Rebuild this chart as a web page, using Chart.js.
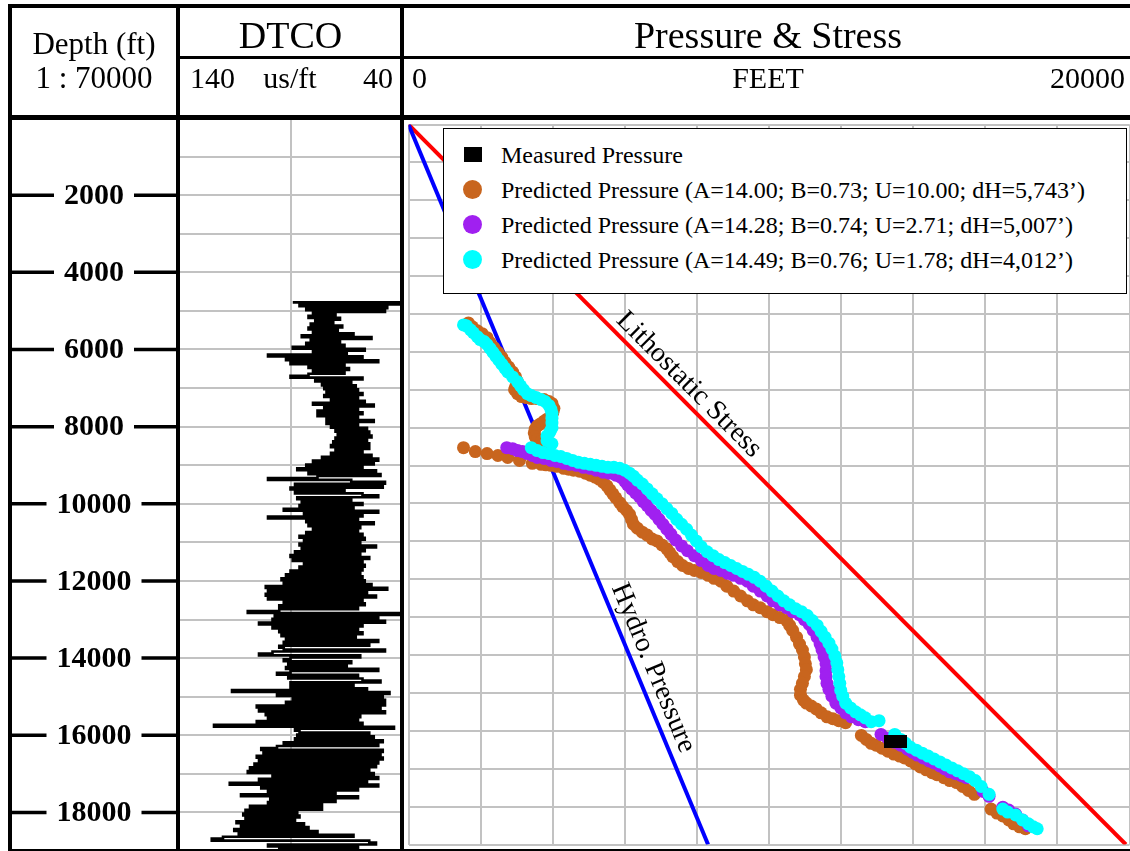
<!DOCTYPE html>
<html>
<head>
<meta charset="utf-8">
<title>Pressure &amp; Stress log</title>
<script src="https://cdn.jsdelivr.net/npm/chart.js@4.4.0/dist/chart.umd.min.js"></script>
<style>
  html, body { margin: 0; padding: 0; background: #fff; overflow: hidden; }
  #log { position: relative; width: 1140px; height: 851px; font-family: 'Liberation Serif', 'Times New Roman', serif; color: #000; }
  .rule { position: absolute; background: #000; z-index: 5; }
  .txt { position: absolute; white-space: nowrap; line-height: 1; z-index: 6; }
  .center { text-align: center; }
  .right { text-align: right; }
  canvas { position: absolute; top: 118px; }
  #legend { position: absolute; left: 443px; top: 128px; width: 682px; height: 156px; border: 1.5px solid #000;
            background: #fff; z-index: 7; padding-top: 8px; box-sizing: content-box; }
  .row { display: flex; align-items: center; height: 35px; font-size: 24px; line-height: 24px; }
  .mark { width: 57px; display: flex; justify-content: center; align-items: center; }
</style>
</head>
<body>
<div id="log">
  <!-- header text -->
  <div class="txt center" style="left:10px; width:168px; top:28px; font-size:31px;">Depth (ft)</div>
  <div class="txt center" style="left:10px; width:168px; top:62px; font-size:31px;">1 : 70000</div>
  <div class="txt center" style="left:178px; width:225px; top:16px; font-size:38px;">DTCO</div>
  <div class="txt" style="left:190px; top:63px; font-size:30px;">140</div>
  <div class="txt center" style="left:240px; width:100px; top:63px; font-size:30px;">us/ft</div>
  <div class="txt right" style="left:300px; width:93px; top:63px; font-size:30px;">40</div>
  <div class="txt center" style="left:403px; width:730px; top:16px; font-size:38px;">Pressure &amp; Stress</div>
  <div class="txt" style="left:412px; top:63px; font-size:30px;">0</div>
  <div class="txt center" style="left:403px; width:730px; top:63px; font-size:30px;">FEET</div>
  <div class="txt right" style="left:900px; width:225px; top:63px; font-size:30px;">20000</div>

  <!-- track frame -->
  <div class="rule" style="left:8px; top:4px; width:1132px; height:4px;"></div>
  <div class="rule" style="left:8px; top:4px; width:4px; height:847px;"></div>
  <div class="rule" style="left:176px; top:4px; width:4px; height:847px;"></div>
  <div class="rule" style="left:400px; top:4px; width:4px; height:847px;"></div>
  <div class="rule" style="left:178px; top:56px; width:962px; height:3px;"></div>
  <div class="rule" style="left:8px; top:115px; width:1132px; height:5px;"></div>
  <div class="rule" style="left:8px; top:849px; width:1132px; height:4px;"></div>

  <canvas id="depthTrack" width="168" height="733" style="left:10px;"></canvas>
  <canvas id="dtcoTrack" width="225" height="733" style="left:178px;"></canvas>
  <canvas id="pressureTrack" width="734" height="733" style="left:402px;"></canvas>

  <div id="legend"></div>
</div>

<script>
// ---- shared depth axis ----
const DEPTH_MIN = 0;
const DEPTH_MAX = 19000;
const depthTickLabels = [2000, 4000, 6000, 8000, 10000, 12000, 14000, 16000, 18000];

// ---- DTCO log (us/ft), sampled every 50 ft ----
const DTCO_TOP = 4780;
const DTCO_STEP = 50;
const dtcoValues = [
  89, 41, 86, 47, 83, 48, 80, 70, 82, 68,
  79, 71, 81, 67, 82, 69, 80, 62, 85, 54,
  81, 68, 83, 66, 89, 57, 80, 65, 100, 58,
  92, 51, 90, 66, 82, 64, 80, 66, 82, 90,
  58, 79, 63, 76, 61, 75, 60, 74, 58, 75,
  60, 72, 57, 80, 53, 75, 60, 78, 58, 78,
  60, 74, 53, 74, 60, 72,
  56, 70, 55, 69, 54, 70, 56, 71, 55, 72,
  55, 70, 58, 72, 54, 76, 51, 80, 53, 83,
  58, 87, 52, 82, 50, 78, 100, 63, 48, 88,
  49, 90, 66, 88, 58, 51, 87, 63, 85, 58,
  86, 62, 93, 51, 84, 58, 100, 60, 83, 53,
  82, 59, 80, 60, 83, 58, 86, 57, 84, 59,
  86, 52, 85, 57, 88, 59, 90, 55, 89, 58,
  84, 57, 86,
  58, 90, 59, 92, 58, 94, 57, 93, 54, 101,
  47, 100, 56, 101, 52, 100, 58, 93, 57, 95,
  60, 95, 109, 41, 97, 51, 98, 48, 104, 58,
  98, 60, 95, 58, 94, 61, 92, 51, 93, 55,
  95, 93, 48, 98, 104, 59, 90, 93, 63, 91,
  65, 92, 51, 90, 96, 60, 91, 58, 50, 90,
  62, 90, 56, 116, 46, 96, 49, 89, 48, 92,
  48, 105, 50,
  104, 48, 101, 59, 100, 60, 105, 58, 124, 44,
  88, 86, 55, 87, 53, 88, 49, 93, 51, 96,
  103, 49, 102, 50, 105, 49, 104, 51, 106, 52,
  108, 55, 109, 53, 98, 51, 104, 56, 117, 51,
  103, 60, 100, 70, 112, 60, 99, 70, 100, 76,
  108, 76, 110, 87, 111, 86, 110, 88, 114, 84,
  112, 82, 115, 78, 113, 62, 120, 125, 55, 52,
  100, 60, 95
];

// ---- pressure track (depth in ft, pressure in psi) ----
const measuredDepth = [16291];
const measuredPressure = [13516];

// Predicted Pressure (A=14.00; B=0.73; U=10.00)
const predADepth = [
  5236, 5340, 5443, 5521, 5625, 5754, 5884, 6013, 6143, 6273, 6402, 6532, 6661, 6791, 6921, 6998, 7102, 7180, 7206, 7232,
  7232, 7258, 7309, 7361, 7491, 7594, 7698, 7776, 7828, 7906, 7957, 8035, 8139, 8243, 8320, 8372, 8424, 8476,
  8528, 8631, 8683, 8735, 8787, 8865, 8942, 8968, 8981, 8994, 9020, 9072, 9098, 9124, 9150, 9202, 9254, 9305, 9357, 9435,
  9538, 9642, 9746, 9850, 9979, 10083, 10186, 10290, 10420, 10549, 10653, 10757, 10834, 10938, 10990, 11094, 11197, 11301,
  11405, 11534, 11638, 11716, 11768, 11820, 11897, 11975, 12053, 12182, 12312, 12442, 12571, 12675, 12753, 12857, 12934,
  13012, 13090, 13219, 13349, 13530, 13712, 13867, 14049, 14230, 14386, 14567, 14748, 14904, 15060, 15189, 15267, 15345,
  15422, 15526, 15630, 15682, 15733, 15785, 16122, 16226, 16330, 16381, 16459, 16537, 16615, 16667, 16718, 16796, 16874,
  16952, 17030, 17107, 17159, 17237, 17314, 17366, 17470, 17574, 17677, 18066, 18170, 18248, 18351, 18455, 18533, 18585
];
const predAPressure = [
  1662, 1771, 1908, 2044, 2180, 2262, 2371, 2480, 2589, 2671, 2780, 2889, 2970, 3025, 2970, 2943, 3025, 3134, 3270, 3406,
  3570, 3761, 3897, 3979, 4033, 4006, 3951, 3842, 3761, 3652, 3570, 3515, 3488, 3515, 3570, 3679, 3788, 3897,
  1526, 1853, 2180, 2480, 2752, 3079, 3434, 3679, 3815, 3951, 4115, 4306, 4442, 4578, 4742, 4905, 5041, 5178, 5287, 5396,
  5505, 5586, 5668, 5750, 5859, 5941, 6050, 6131, 6186, 6240, 6349, 6486, 6622, 6758, 6894, 7031, 7167, 7249,
  7330, 7467, 7603, 7766, 7930, 8121, 8311, 8475, 8666, 8829, 9020, 9211, 9401, 9565, 9756, 9946, 10110,
  10301, 10491, 10573, 10655, 10764, 10846, 10927, 10982, 11009, 11036, 10982, 10927, 10873, 10873, 10955, 11036, 11173,
  11309, 11445, 11609, 11772, 11936, 12126, 12562, 12699, 12835, 12971, 13135, 13298, 13462, 13625, 13761, 13925, 14061,
  14197, 14361, 14524, 14661, 14851, 15015, 15206, 15369, 15533, 15696, 16159, 16323, 16486, 16650, 16786, 16950, 17113
];

// Predicted Pressure (A=14.28; B=0.74; U=2.71)
const predBDepth = [
  8528, 8554, 8605, 8631, 8683, 8735, 8787, 8813, 8865, 8891, 8942, 8968, 8994, 9046, 9072, 9124, 9176, 9202, 9254, 9305,
  9409, 9513, 9616, 9720, 9824, 9953, 10057, 10186, 10290, 10420, 10549, 10679, 10808, 10964, 11120, 11249, 11379, 11508,
  11638, 11716, 11768, 11845, 11897, 11975, 12053, 12182, 12312, 12442, 12571, 12675, 12753, 12857, 12934, 13064, 13193,
  13349, 13530, 13712, 13867, 14049, 14230, 14412, 14567, 14748, 14904, 15085, 15267, 15396, 15526, 15630, 15707, 15759,
  16096, 16200, 16304, 16381, 16485, 16563, 16641, 16718, 16796, 16848, 16926, 17004, 17081, 17133, 17185, 17237, 17599,
  17729, 18014, 18092, 18196, 18351, 18507
];
const predBPressure = [
  2725, 2889, 3025, 3161, 3297, 3434, 3570, 3761, 3951, 4115, 4306, 4469, 4660, 4851, 5041, 5205, 5396, 5559, 5750, 5886,
  5995, 6077, 6186, 6295, 6404, 6513, 6622, 6731, 6840, 6949, 7058, 7167, 7276, 7412, 7576, 7739, 7930, 8121,
  8311, 8475, 8666, 8856, 9020, 9211, 9401, 9565, 9756, 9946, 10110, 10301, 10491, 10655, 10846, 10982, 11118,
  11227, 11336, 11418, 11472, 11527, 11581, 11581, 11581, 11609, 11663, 11745, 11854, 11990, 12126, 12290, 12481, 12671,
  13107, 13298, 13489, 13652, 13843, 13979, 14116, 14279, 14443, 14579, 14742, 14879, 15015, 15178, 15342, 15478, 15941,
  16105, 16486, 16650, 16841, 17031, 17195
];

// Predicted Pressure (A=14.49; B=0.76; U=1.78)
const predCDepth = [
  5288, 5314, 5417, 5495, 5599, 5676, 5728, 5806, 5910, 6013, 6117, 6221, 6324, 6428, 6532, 6661, 6791, 6895, 6998, 7102,
  7154, 7206, 7258, 7309, 7413, 7517, 7620, 7750, 7880, 8009, 8113, 8217, 8346, 8424,
  8528, 8605, 8657, 8683, 8735, 8761, 8813, 8865, 8916, 8942, 8968, 8994, 9020, 9046, 9046, 9072, 9124, 9202, 9279, 9383,
  9487, 9616, 9746, 9876, 10005, 10135, 10264, 10420, 10549, 10679, 10834, 10990, 11146, 11275, 11379, 11482, 11560, 11638,
  11716, 11794, 11871, 11949, 12053, 12182, 12312, 12442, 12571, 12675, 12779, 12857, 12960, 13090, 13219, 13375, 13530,
  13686, 13841, 14023, 14204, 14386, 14567, 14748, 14930, 15085, 15267, 15396, 15500, 15578, 15656, 15759, 15733, 16096,
  16226, 16330, 16433, 16511, 16589, 16667, 16744, 16822, 16900, 16978, 17055, 17133, 17211, 17314, 17470, 17677, 18066,
  18144, 18222, 18351, 18455, 18533, 18585
];
const predCPressure = [
  1526, 1608, 1717, 1799, 1908, 1989, 2098, 2180, 2262, 2344, 2425, 2507, 2589, 2671, 2752, 2889, 3025, 3107, 3188, 3297,
  3406, 3543, 3679, 3788, 3897, 3951, 3979, 3979, 3979, 3979, 3924, 3842, 3842, 3979,
  3406, 3570, 3733, 3897, 4060, 4224, 4387, 4551, 4714, 4878, 5041, 5205, 5368, 5532, 5695, 5859, 5995, 6131, 6240, 6349,
  6486, 6622, 6758, 6894, 7031, 7167, 7303, 7439, 7576, 7712, 7848, 7984, 8121, 8284, 8448, 8611, 8775, 8938,
  9102, 9265, 9429, 9592, 9756, 9919, 10083, 10246, 10410, 10573, 10737, 10900, 11064, 11200, 11336, 11445, 11554,
  11663, 11745, 11827, 11881, 11908, 11936, 11963, 11990, 12045, 12126, 12263, 12399, 12535, 12671, 12835, 13053, 13489,
  13652, 13789, 13925, 14088, 14252, 14415, 14579, 14742, 14906, 15069, 15233, 15396, 15560, 15723, 15887, 16105, 16486,
  16623, 16841, 17031, 17195, 17331, 17440
];

const hydroDepth = [0, 19000];
const hydroPressure = [0, 8310];
const lithoDepth = [0, 19000];
const lithoStress = [0, 19900];

const GRID_COLOR = '#c2c2c2';
const SERIF = "'Liberation Serif', 'Times New Roman', serif";
const DOT_RADIUS = 6.5;

const toPoints = (xs, ys) => xs.map((x, i) => ({ x: x, y: ys[i] }));

function depthAxis(withGrid) {
  return {
    type: 'linear', min: DEPTH_MIN, max: DEPTH_MAX, reverse: true,
    display: withGrid,
    ticks: { display: false, stepSize: 1000 },
    grid: { color: GRID_COLOR, lineWidth: 2, drawTicks: false },
    border: { display: false }
  };
}

const baseOptions = {
  responsive: false,
  animation: false,
  events: [],
  layout: { padding: 0 },
  plugins: { legend: { display: false }, tooltip: { enabled: false } }
};

// --- depth track: tick marks either side of bold labels ---
const depthLabelsPlugin = {
  id: 'depthLabels',
  afterDraw(chart) {
    const { ctx, width } = chart;
    const scale = chart.scales.y;
    ctx.save();
    ctx.font = 'bold 30px ' + SERIF;
    ctx.textAlign = 'center';
    ctx.textBaseline = 'middle';
    ctx.fillStyle = '#000';
    ctx.strokeStyle = '#000';
    ctx.lineWidth = 3.5;
    const cx = width / 2;
    depthTickLabels.forEach(d => {
      const y = scale.getPixelForValue(d);
      const label = String(d);
      const half = ctx.measureText(label).width / 2 + 10;
      ctx.beginPath();
      ctx.moveTo(0, y); ctx.lineTo(cx - half, y);
      ctx.moveTo(cx + half, y); ctx.lineTo(width, y);
      ctx.stroke();
      ctx.fillText(label, cx, y + 1);
    });
    ctx.restore();
  }
};

new Chart(document.getElementById('depthTrack'), {
  type: 'scatter',
  data: { datasets: [] },
  options: Object.assign({}, baseOptions, {
    scales: {
      x: { type: 'linear', display: false, min: 0, max: 1 },
      y: depthAxis(false)
    }
  }),
  plugins: [depthLabelsPlugin]
});

// --- DTCO track ---
const dtcoPoints = dtcoValues.map((v, i) => ({ x: v, y: DTCO_TOP + i * DTCO_STEP }));

new Chart(document.getElementById('dtcoTrack'), {
  type: 'scatter',
  data: {
    datasets: [{
      label: 'DTCO',
      data: dtcoPoints,
      showLine: true,
      stepped: true,
      borderColor: '#000',
      borderWidth: 2.6,
      pointRadius: 0
    }]
  },
  options: Object.assign({}, baseOptions, {
    scales: {
      x: {
        type: 'linear', min: 40, max: 140, reverse: true,
        ticks: { display: false, stepSize: 50 },
        grid: { color: GRID_COLOR, lineWidth: 2, drawTicks: false },
        border: { display: false }
      },
      y: depthAxis(true)
    }
  })
});

// --- pressure & stress track ---
const measuredMark = document.createElement('canvas');
measuredMark.width = 23;
measuredMark.height = 13;
(function () {
  const c = measuredMark.getContext('2d');
  c.fillStyle = '#000';
  c.fillRect(0, 0, 23, 13);
})();

const pressureSets = [
  {
    label: 'Measured Pressure', legend: 'square',
    data: toPoints(measuredPressure, measuredDepth),
    pointStyle: measuredMark, backgroundColor: '#000', borderColor: '#000', order: 0
  },
  {
    label: 'Predicted Pressure (A=14.00; B=0.73; U=10.00; dH=5,743\u2019)', legend: 'circle',
    data: toPoints(predAPressure, predADepth),
    backgroundColor: '#c8651e', borderColor: '#c8651e', pointRadius: DOT_RADIUS, borderWidth: 0, order: 3
  },
  {
    label: 'Predicted Pressure (A=14.28; B=0.74; U=2.71; dH=5,007\u2019)', legend: 'circle',
    data: toPoints(predBPressure, predBDepth),
    backgroundColor: '#a020f0', borderColor: '#a020f0', pointRadius: DOT_RADIUS, borderWidth: 0, order: 2
  },
  {
    label: 'Predicted Pressure (A=14.49; B=0.76; U=1.78; dH=4,012\u2019)', legend: 'circle',
    data: toPoints(predCPressure, predCDepth),
    backgroundColor: '#00ffff', borderColor: '#00ffff', pointRadius: DOT_RADIUS, borderWidth: 0, order: 1
  },
  {
    label: 'Hydro. Pressure',
    data: toPoints(hydroPressure, hydroDepth),
    showLine: true, borderColor: '#0000ff', borderWidth: 4, pointRadius: 0, order: 8
  },
  {
    label: 'Lithostatic Stress',
    data: toPoints(lithoStress, lithoDepth),
    showLine: true, borderColor: '#ff0000', borderWidth: 4, pointRadius: 0, order: 9
  }
];

// labels written along the two reference lines
const lineLabels = [
  { text: 'Lithostatic Stress', dataset: 5, depth: 7145, offset: 15 },
  { text: 'Hydro. Pressure', dataset: 4, depth: 14515, offset: 17 }
];

const lineLabelPlugin = {
  id: 'lineLabels',
  afterDatasetsDraw(chart) {
    const { ctx } = chart;
    ctx.save();
    ctx.font = '28px ' + SERIF;
    ctx.fillStyle = '#000';
    ctx.textAlign = 'center';
    ctx.textBaseline = 'middle';
    lineLabels.forEach(l => {
      const pts = chart.getDatasetMeta(l.dataset).data;
      const a = pts[0], b = pts[pts.length - 1];
      const ds = chart.data.datasets[l.dataset].data;
      const t = (l.depth - ds[0].y) / (ds[ds.length - 1].y - ds[0].y);
      const px = a.x + (b.x - a.x) * t;
      const py = a.y + (b.y - a.y) * t;
      const ang = Math.atan2(b.y - a.y, b.x - a.x);
      ctx.save();
      ctx.translate(px + Math.sin(ang) * l.offset, py - Math.cos(ang) * l.offset);
      ctx.rotate(ang);
      ctx.fillText(l.text, 0, 0);
      ctx.restore();
    });
    ctx.restore();
  }
};

new Chart(document.getElementById('pressureTrack'), {
  type: 'scatter',
  data: { datasets: pressureSets },
  options: Object.assign({}, baseOptions, {
    scales: {
      x: {
        type: 'linear', min: 0, max: 20000,
        ticks: { display: false, stepSize: 2000 },
        grid: { color: GRID_COLOR, lineWidth: 2, drawTicks: false },
        border: { display: false }
      },
      y: depthAxis(true)
    }
  }),
  plugins: [lineLabelPlugin]
});

// --- legend box ---
const legendBox = document.getElementById('legend');
pressureSets.filter(ds => ds.legend).forEach(ds => {
  const row = document.createElement('div');
  row.className = 'row';
  const mark = document.createElement('div');
  mark.className = 'mark';
  const sw = document.createElement('span');
  sw.style.display = 'inline-block';
  sw.style.background = ds.backgroundColor;
  if (ds.legend === 'square') {
    sw.style.width = '18px'; sw.style.height = '15px';
  } else {
    sw.style.width = '19px'; sw.style.height = '19px'; sw.style.borderRadius = '50%';
  }
  mark.appendChild(sw);
  const text = document.createElement('span');
  text.textContent = ds.label;
  row.appendChild(mark);
  row.appendChild(text);
  legendBox.appendChild(row);
});
</script>
</body>
</html>
